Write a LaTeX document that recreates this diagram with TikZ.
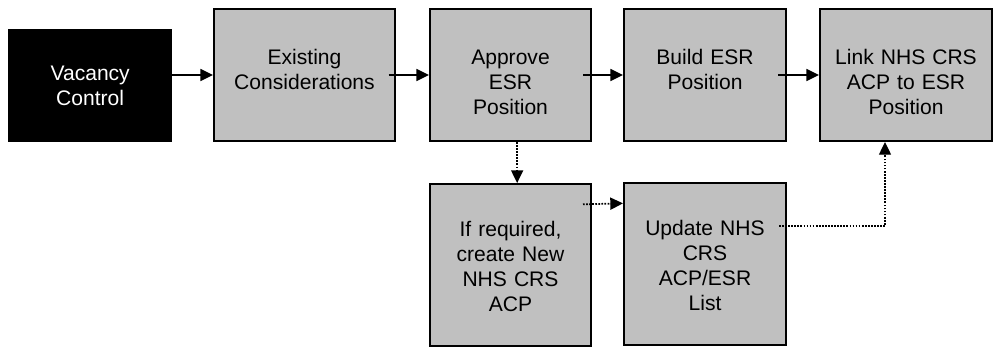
\documentclass[tikz,border=0pt]{standalone}
\usepackage{fontspec}
\setmainfont{Liberation Sans}
\usetikzlibrary{arrows.meta}
\definecolor{boxgray}{HTML}{C0C0C0}

\begin{document}
\begin{tikzpicture}[x=0.75pt,y=-0.75pt,
    every node/.style={font=\fontsize{15.8}{18.75}\selectfont},
    stepbox/.style={draw=black, fill=boxgray, line width=1.5pt, inner sep=0pt,
      align=center, anchor=north west, text height=41.25pt, text depth=57.75pt},
    lowbox/.style={stepbox, text height=39pt, text depth=82.5pt},
    flow/.style={line width=1.3pt, -{Triangle[length=9.5pt,width=9pt]}},
    maybe/.style={flow, densely dotted}]
    \useasboundingbox (0,0) rectangle (997,347);
    \node[draw=black, fill=black, text=white, line width=1pt, inner sep=0pt, align=center,
      anchor=north west, text width=122.25pt, minimum height=84pt] (vac) at (8,29) {Vacancy\\Control};
    \node[stepbox, text width=135.75pt] (exist) at (213,8) {Existing\\Considerations};
    \node[stepbox, text width=120.75pt] (approve) at (429,8) {Approve\\ESR\\Position};
    \node[stepbox, text width=121.5pt] (build) at (623,8) {Build ESR\\Position};
    \node[stepbox, text width=129pt] (link) at (819,8) {Link NHS CRS\\ACP to ESR\\Position};
    \node[lowbox, text width=120.75pt] (ifreq) at (429,183) {If required,\\create New\\NHS CRS\\ACP};
    \node[lowbox, text width=121.5pt] (update) at (623,182) {Update NHS\\CRS\\ACP/ESR\\List};
    %main flow
    \draw[flow] (vac.east |- exist.west) -- (exist.west);
    \draw[flow] ([xshift=-5.5pt]exist.east) -- (approve.west);
    \draw[flow] ([xshift=-6.75pt]approve.east) -- (build.west);
    \draw[flow] ([xshift=-6.75pt]build.east) -- (link.west);
    %optional branch
    \draw[maybe] ([xshift=5pt]approve.south) -- ([xshift=5pt]ifreq.north);
    \draw[maybe] ([xshift=-6.75pt,yshift=-16pt]ifreq.north east) -- ([yshift=-16pt]update.north west);
    \draw[maybe, line width=1pt] ([xshift=-6pt,yshift=-33pt]update.north east) -| ([xshift=-15.75pt]link.south);
\end{tikzpicture}
\end{document}
